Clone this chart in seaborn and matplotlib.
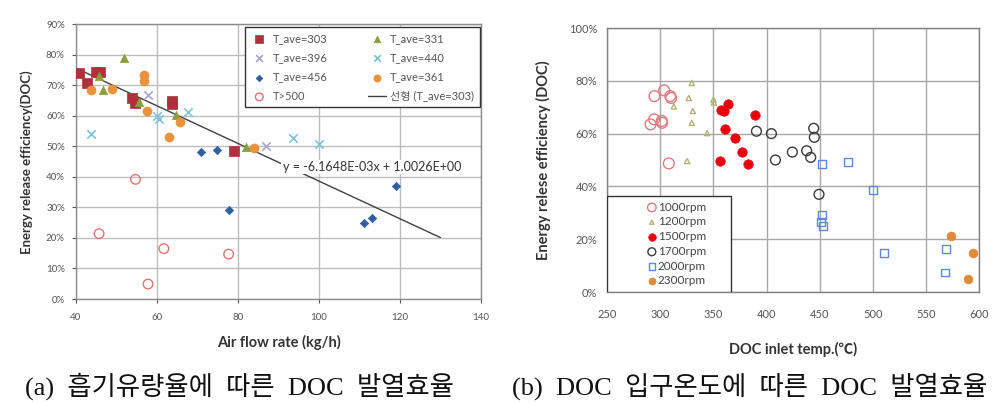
import pandas as pd
import matplotlib
matplotlib.use('Agg')
import matplotlib.pyplot as plt
from matplotlib.patches import Rectangle
from matplotlib.ticker import PercentFormatter
import seaborn as sns

sns.set_theme(style='white')
plt.rcParams['font.family'] = ['Lato', 'Noto Sans CJK KR']

#===================
# (a) data: air flow rate (kg/h) vs efficiency
#===================
t303_x = [40.7, 42.8, 45.0, 46.0, 53.9, 54.6, 63.7, 63.7, 79.0]
t303_y = [0.739, 0.709, 0.744, 0.744, 0.659, 0.643, 0.649, 0.637, 0.485]
t331_x = [51.9, 45.7, 46.8, 55.5, 64.6, 81.9]
t331_y = [0.790, 0.730, 0.686, 0.644, 0.602, 0.499]
t396_x = [57.9, 86.9]
t396_y = [0.669, 0.501]
t440_x = [43.7, 60.1, 60.5, 67.6, 93.7, 100.0]
t440_y = [0.539, 0.599, 0.588, 0.612, 0.528, 0.509]
t456_x = [70.8, 74.8, 77.8, 111.1, 113.1, 119.0]
t456_y = [0.481, 0.489, 0.292, 0.249, 0.264, 0.371]
t361_x = [43.7, 48.8, 56.8, 56.8, 57.6, 62.9, 65.8, 83.9]
t361_y = [0.685, 0.688, 0.732, 0.715, 0.615, 0.531, 0.581, 0.495]
t500_x = [45.7, 54.7, 57.8, 61.7, 77.7]
t500_y = [0.214, 0.392, 0.049, 0.165, 0.147]

# trend line printed on the chart
fit_slope = -6.1648E-03
fit_icpt = 1.0026
fit_x = [40, 130]
fit_y = [fit_slope * v + fit_icpt for v in fit_x]

#===================
# (b) data: DOC inlet temp vs efficiency
#===================
r1000_x = [294.5, 303.6, 309.3, 310.2, 290.8, 294.2, 301.4, 301.7, 308.0]
r1000_y = [0.742, 0.764, 0.742, 0.735, 0.635, 0.654, 0.648, 0.641, 0.487]
r1200_x = [329.6, 326.8, 350.0, 350.5, 312.7, 330.6, 329.6, 344.1, 325.3]
r1200_y = [0.792, 0.735, 0.729, 0.718, 0.703, 0.686, 0.641, 0.602, 0.496]
r1500_x = [363.5, 356.9, 360.4, 389.5, 361.3, 370.4, 376.7, 356.3, 382.3]
r1500_y = [0.711, 0.691, 0.684, 0.670, 0.617, 0.583, 0.530, 0.497, 0.486]
r1700_x = [390.5, 404.6, 444.4, 445.0, 424.3, 437.8, 441.6, 408.4, 449.4]
r1700_y = [0.609, 0.600, 0.620, 0.586, 0.530, 0.535, 0.510, 0.500, 0.370]
r2000_x = [452.6, 476.4, 500.5, 452.3, 451.3, 452.9, 510.6, 568.6, 567.7]
r2000_y = [0.485, 0.491, 0.388, 0.293, 0.265, 0.249, 0.148, 0.164, 0.074]
r2300_x = [573.6, 594.0, 589.6]
r2300_y = [0.211, 0.149, 0.051]

fig = plt.figure(figsize=(10.02, 4.03), dpi=100)
ax1 = fig.add_axes([0.0758, 0.258, 0.4042, 0.682])
ax2 = fig.add_axes([0.606, 0.2754, 0.371, 0.6551])

#===================
# Chart (a)
#===================
series_a = [
    (t303_x, t303_y, 'T_ave=303', 's', '#b0303c', 48, 'fill'),
    (t331_x, t331_y, 'T_ave=331', '^', '#8a9e3c', 36, 'fill'),
    (t396_x, t396_y, 'T_ave=396', 'x', '#a7a4cf', 36, 'line'),
    (t440_x, t440_y, 'T_ave=440', 'x', '#7cc4d4', 36, 'line'),
    (t456_x, t456_y, 'T_ave=456', 'D', '#2f5f9e', 18, 'fill'),
    (t361_x, t361_y, 'T_ave=361', 'o', '#e8923a', 42, 'fill'),
    (t500_x, t500_y, 'T>500', 'o', '#e07474', 48, 'open'),
]
for xs, ys, lab, mk, col, size, kind in series_a:
    d = pd.DataFrame({'x': xs, 'y': ys})
    if kind == 'open':
        sns.scatterplot(data=d, x='x', y='y', ax=ax1, marker=mk, s=size,
                        facecolors='none', edgecolor=col, linewidth=1.0, label=lab, zorder=3)
    elif kind == 'line':
        sns.scatterplot(data=d, x='x', y='y', ax=ax1, marker=mk, s=size,
                        color=col, linewidth=1.2, label=lab, zorder=3)
    else:
        sns.scatterplot(data=d, x='x', y='y', ax=ax1, marker=mk, s=size,
                        color=col, edgecolor=col, linewidth=0.5, label=lab, zorder=3)

sns.lineplot(x=fit_x, y=fit_y, ax=ax1, color='#404040', linewidth=1.0,
             label='선형 (T_ave=303)', zorder=2)

ax1.text(91.0, 0.432, 'y = -6.1648E-03x + 1.0026E+00', fontsize=9, color='#333333',
         va='center', ha='left', zorder=4,
         bbox=dict(facecolor='white', edgecolor='none', pad=1.0))

ax1.set_xlim(40, 140)
ax1.set_ylim(0, 0.9)
ax1.set_xticks(range(40, 141, 20))
ax1.set_yticks([i / 10 for i in range(10)])
ax1.yaxis.set_major_formatter(PercentFormatter(1.0, decimals=0))
ax1.grid(True, color='#bdbdbd', linewidth=1.0)
ax1.set_axisbelow(True)
for sp in ax1.spines.values():
    sp.set_color('#8c8c8c')
    sp.set_linewidth(1.0)
ax1.tick_params(axis='both', labelsize=7, colors='#555555', length=3, width=0.8,
                direction='out', bottom=True, left=True)
ax1.tick_params(axis='x', pad=7)
ax1.tick_params(axis='y', pad=5)
ax1.set_xlabel('Air flow rate (kg/h)', fontsize=10.5, fontweight='bold', color='#333333')
ax1.set_ylabel('Energy release efficiency(DOC)', fontsize=9.5, fontweight='bold', color='#333333')
ax1.xaxis.set_label_coords(0.5, -0.13)
ax1.yaxis.set_label_coords(-0.105, 0.498)

# legend filled row by row like the original (2 columns)
h, l = ax1.get_legend_handles_labels()
order = [0, 2, 4, 6, 1, 3, 5, 7]
leg1 = ax1.legend([h[i] for i in order], [l[i] for i in order], ncol=2, loc='upper left',
                  bbox_to_anchor=(0.417, 0.989, 0.58, 0.0),
                  mode='expand', fontsize=8, frameon=True, fancybox=False,
                  edgecolor='#333333', framealpha=1.0, borderpad=0.5,
                  labelspacing=0.75, handlelength=1.6, handletextpad=0.4,
                  columnspacing=1.0, borderaxespad=0, markerscale=0.8)
leg1.get_frame().set_linewidth(1.0)
for t in leg1.get_texts():
    t.set_color('#555555')

#===================
# Chart (b)
#===================
series_b = [
    (r1000_x, r1000_y, '1000rpm', 'o', '#e07a80', 60, 'open'),
    (r1200_x, r1200_y, '1200rpm', '^', '#b5b27a', 14, 'open'),
    (r1500_x, r1500_y, '1500rpm', 'o', '#e8000f', 46, 'fill'),
    (r1700_x, r1700_y, '1700rpm', 'o', '#3a3a3a', 50, 'open'),
    (r2000_x, r2000_y, '2000rpm', 's', '#5b8bd0', 32, 'open'),
    (r2300_x, r2300_y, '2300rpm', 'o', '#e08a3a', 40, 'fill'),
]
for xs, ys, lab, mk, col, size, kind in series_b:
    d = pd.DataFrame({'x': xs, 'y': ys})
    if kind == 'open':
        sns.scatterplot(data=d, x='x', y='y', ax=ax2, marker=mk, s=size,
                        facecolors='none', edgecolor=col, linewidth=1.0, label=lab, zorder=3)
    else:
        sns.scatterplot(data=d, x='x', y='y', ax=ax2, marker=mk, s=size,
                        color=col, edgecolor=col, linewidth=0.5, label=lab, zorder=3)

ax2.set_xlim(250, 600)
ax2.set_ylim(0, 1.0)
ax2.set_xticks(range(250, 601, 50))
ax2.set_yticks([0, 0.2, 0.4, 0.6, 0.8, 1.0])
ax2.yaxis.set_major_formatter(PercentFormatter(1.0, decimals=0))
ax2.grid(True, color='#a8a8a8', linewidth=1.0)
ax2.set_axisbelow(True)
for sp in ax2.spines.values():
    sp.set_color('#808080')
    sp.set_linewidth(1.0)
ax2.tick_params(axis='both', labelsize=8, colors='#555555', length=0)
ax2.tick_params(axis='x', pad=12)
ax2.tick_params(axis='y', pad=7)
ax2.set_xlabel('DOC inlet temp.(℃)', fontsize=10.5, fontweight='bold', color='#333333')
ax2.set_ylabel('Energy relese efficiency (DOC)', fontsize=10.5, fontweight='bold', color='#333333')
ax2.xaxis.set_label_coords(0.5, -0.19)
ax2.yaxis.set_label_coords(-0.15, 0.5)

leg_w = 0.333
leg_h = 0.364
ax2.add_patch(Rectangle((0, 0), leg_w, leg_h, transform=ax2.transAxes,
                        facecolor='white', edgecolor='#333333', linewidth=1.0, zorder=5))
leg2 = ax2.legend(loc='center', bbox_to_anchor=(0.02, 0, leg_w, leg_h), fontsize=8.5,
                  frameon=False, labelspacing=0.32, handlelength=0.8,
                  handletextpad=0.1, borderpad=0.2, borderaxespad=0, markerscale=0.8)
leg2.set_zorder(6)
for t in leg2.get_texts():
    t.set_color('#444444')

#===================
# Captions
#===================
cap_font = ['Liberation Serif', 'Noto Sans CJK KR']
fig.text(0.025, 0.042, '(a)  흡기유량율에  따른  DOC  발열효율', fontsize=19,
         family=cap_font, ha='left', va='center', color='#111111')
fig.text(0.511, 0.042, '(b)  DOC  입구온도에  따른  DOC  발열효율', fontsize=19,
         family=cap_font, ha='left', va='center', color='#111111')

plt.savefig('out.png', dpi=100)
